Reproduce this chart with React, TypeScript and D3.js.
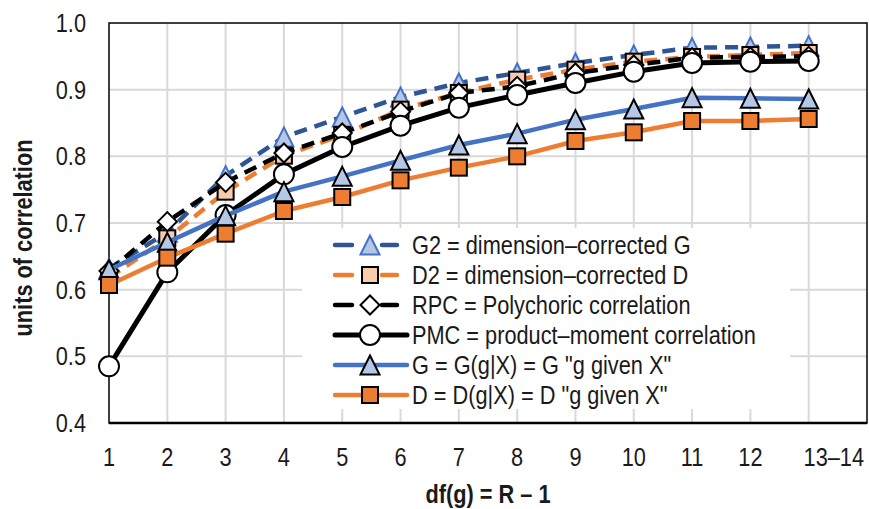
import React from "react";
import * as d3 from "d3";

const categories = ["1","2","3","4","5","6","7","8","9","10","11","12","13","14"];
const tickLabels = ["1","2","3","4","5","6","7","8","9","10","11","12","",""];
const lastLabel = "13–14";
const yTicks = [0.4,0.5,0.6,0.7,0.8,0.9,1.0];

const G2 = [0.632,0.686,0.771,0.829,0.859,0.889,0.910,0.925,0.940,0.952,0.963,0.964,0.966];
const D2 = [0.618,0.677,0.747,0.801,0.832,0.870,0.895,0.915,0.930,0.942,0.949,0.952,0.955];
const RPC = [0.628,0.702,0.761,0.805,0.835,0.867,0.895,0.905,0.925,0.937,0.948,0.949,0.950];
const PMC = [0.485,0.626,0.712,0.773,0.814,0.846,0.873,0.892,0.910,0.927,0.940,0.942,0.943];
const G = [0.630,0.671,0.711,0.747,0.770,0.794,0.817,0.834,0.855,0.871,0.888,0.887,0.886];
const D = [0.607,0.648,0.684,0.718,0.739,0.764,0.783,0.800,0.823,0.836,0.853,0.853,0.856];

const seriesNames = [
  "G2 = dimension–corrected G",
  "D2 = dimension–corrected D",
  "RPC = Polychoric correlation",
  "PMC = product–moment correlation",
  "G = G(g|X) = G \"g given X\"",
  "D = D(g|X) = D \"g given X\"",
];

type Style = { line: string; width: number; dash?: string; marker: string; fill: string; mstroke: string };
const styles: Style[] = [
  { line: "#2F5597", width: 4.5, dash: "13 8", marker: "tri", fill: "#B4C7E7", mstroke: "#4472C4" },
  { line: "#ED7D31", width: 4.5, dash: "13 8", marker: "sq", fill: "#F8CBAD", mstroke: "#000" },
  { line: "#000000", width: 4.5, dash: "13 8", marker: "dia", fill: "#FFFFFF", mstroke: "#000" },
  { line: "#000000", width: 5, marker: "circ", fill: "#FFFFFF", mstroke: "#000" },
  { line: "#4472C4", width: 4.5, marker: "tri", fill: "#B4C7E7", mstroke: "#000" },
  { line: "#ED7D31", width: 4.5, marker: "sq", fill: "#ED7D31", mstroke: "#000" },
];
const allData = [G2, D2, RPC, PMC, G, D];

const W = 869, H = 509;
const L = 109, R = 867, T = 23, B = 423;
const FONT = "'Liberation Sans', Arial, sans-serif";
const SX = 0.87;

function T2({ x, y, anchor, bold, rotate, children, dy }: { x: number; y: number; anchor?: string; bold?: boolean; rotate?: number; dy?: string; children: React.ReactNode }) {
  return (
    <text
      transform={`translate(${x},${y})${rotate ? ` rotate(${rotate})` : ""} scale(${SX},1)`}
      textAnchor={anchor || "start"}
      fontSize={25}
      fontWeight={bold ? "bold" : "normal"}
      dy={dy}
      fill="#1a1a1a"
    >
      {children}
    </text>
  );
}

function Marker({ type, x, y, fill, stroke }: { type: string; x: number; y: number; fill: string; stroke: string }) {
  const sw = 2;
  if (type === "tri") {
    const w = 19, h = 19;
    return <path d={`M${x},${y - h / 2}L${x + w / 2},${y + h / 2}L${x - w / 2},${y + h / 2}Z`} fill={fill} stroke={stroke} strokeWidth={sw} strokeLinejoin="miter" />;
  }
  if (type === "sq") {
    const s = 16;
    return <rect x={x - s / 2} y={y - s / 2} width={s} height={s} fill={fill} stroke={stroke} strokeWidth={sw} />;
  }
  if (type === "dia") {
    const r = 9.5;
    return <path d={`M${x},${y - r}L${x + r},${y}L${x},${y + r}L${x - r},${y}Z`} fill={fill} stroke={stroke} strokeWidth={sw} />;
  }
  return <circle cx={x} cy={y} r={10} fill={fill} stroke={stroke} strokeWidth={sw} />;
}

export default function App() {
  const x = d3.scalePoint<string>().domain(categories).range([L, R]);
  const y = d3.scaleLinear().domain([0.4, 1.0]).range([B, T]);
  const line = d3.line<number>().x((_, i) => x(categories[i])!).y((d) => y(d));

  const legX = 302, legY = 228, legW = 488, legH = 181;
  const rowY0 = 245, rowDy = 30;

  return (
    <svg width={W} height={H} style={{ position: "absolute", left: 0, top: 0, fontFamily: FONT }}>
      <rect width={W} height={H} fill="#fff" />
      {yTicks.slice(1, -1).map((t) => (
        <line key={"hy" + t} x1={L} x2={R} y1={y(t)} y2={y(t)} stroke="#D9D9D9" strokeWidth={2} />
      ))}
      {categories.slice(1, -1).map((c) => (
        <line key={"gx" + c} x1={x(c)} x2={x(c)} y1={T} y2={B} stroke="#D9D9D9" strokeWidth={2} />
      ))}
      <rect x={L} y={T} width={R - L} height={B - T} fill="none" stroke="#000" strokeWidth={1.5} />
      <line x1={L} x2={R} y1={B} y2={B} stroke="#000" strokeWidth={2.5} />
      <rect x={legX} y={legY} width={legW} height={legH} fill="#fff" />
      {allData.map((data, si) => {
        const s = styles[si];
        return (
          <g key={"s" + si}>
            <path d={line(data)!} fill="none" stroke={s.line} strokeWidth={s.width} strokeDasharray={s.dash} strokeLinejoin="round" />
            {data.map((v, i) => (
              <Marker key={i} type={s.marker} x={x(categories[i])!} y={y(v)} fill={s.fill} stroke={s.mstroke} />
            ))}
          </g>
        );
      })}
      {yTicks.map((t) => (
        <T2 key={"yl" + t} x={86} y={y(t)} dy="0.36em" anchor="end">{t.toFixed(1)}</T2>
      ))}
      {tickLabels.map((lab, i) =>
        lab ? (
          <T2 key={"xl" + i} x={x(categories[i])!} y={466} anchor="middle">{lab}</T2>
        ) : null
      )}
      <T2 x={x(categories[13])! - 3} y={466} anchor="end">{lastLabel}</T2>
      <T2 x={32} y={238} rotate={-90} anchor="middle" bold>units of correlation</T2>
      <T2 x={(L + R) / 2} y={503} anchor="middle" bold>df(g) = R – 1</T2>
      {seriesNames.map((name, i) => {
        const s = styles[i];
        const ry = rowY0 + i * rowDy;
        return (
          <g key={"lg" + i}>
            {s.dash ? (
              <>
                <line x1={335} x2={352} y1={ry} y2={ry} stroke={s.line} strokeWidth={s.width} strokeLinecap="round" />
                <line x1={382} x2={397} y1={ry} y2={ry} stroke={s.line} strokeWidth={s.width} strokeLinecap="round" />
              </>
            ) : (
              <line x1={335} x2={407} y1={ry} y2={ry} stroke={s.line} strokeWidth={s.width} strokeLinecap="round" />
            )}
            <Marker type={s.marker} x={370} y={ry} fill={s.fill} stroke={s.mstroke} />
            <T2 x={412} y={ry} dy="0.36em">{name}</T2>
          </g>
        );
      })}
    </svg>
  );
}
